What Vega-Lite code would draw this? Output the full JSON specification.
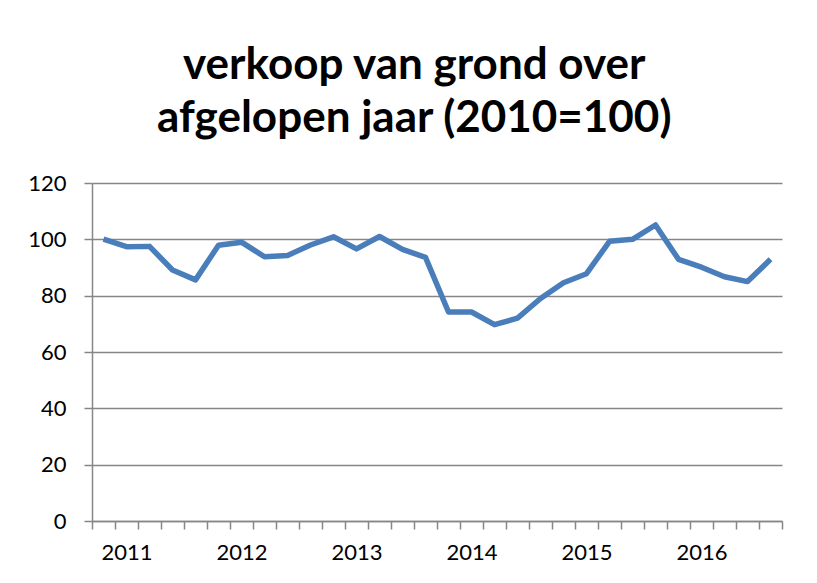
{
  "$schema": "https://vega.github.io/schema/vega-lite/v6.json",
  "width": 690,
  "height": 338,
  "autosize": "none",
  "padding": {"left": 92, "top": 183, "right": 35, "bottom": 62},
  "background": "white",
  "title": {
    "text": ["verkoop van grond over", "afgelopen jaar (2010=100)"],
    "font": "Lato",
    "fontWeight": "bold",
    "fontSize": 44,
    "lineHeight": 53,
    "color": "black",
    "anchor": "middle",
    "frame": "bounds",
    "offset": 31,
    "dx": 9
  },
  "config": {
    "view": {"stroke": null},
    "axis": {
      "labelFont": "Lato",
      "labelFontSize": 22,
      "labelColor": "black",
      "domainColor": "#868686",
      "tickColor": "#868686",
      "gridColor": "#868686",
      "domainWidth": 1.5,
      "tickWidth": 1.5,
      "gridWidth": 1.5
    }
  },
  "data": {
    "values": [
      {"q": 0, "index": 100.1},
      {"q": 1, "index": 97.4},
      {"q": 2, "index": 97.5},
      {"q": 3, "index": 89.1},
      {"q": 4, "index": 85.6},
      {"q": 5, "index": 97.9},
      {"q": 6, "index": 99.0},
      {"q": 7, "index": 93.8},
      {"q": 8, "index": 94.3},
      {"q": 9, "index": 98.0},
      {"q": 10, "index": 100.9},
      {"q": 11, "index": 96.6},
      {"q": 12, "index": 101.0},
      {"q": 13, "index": 96.4},
      {"q": 14, "index": 93.6},
      {"q": 15, "index": 74.2},
      {"q": 16, "index": 74.2},
      {"q": 17, "index": 69.7},
      {"q": 18, "index": 72.0},
      {"q": 19, "index": 79.0},
      {"q": 20, "index": 84.6},
      {"q": 21, "index": 87.8},
      {"q": 22, "index": 99.3},
      {"q": 23, "index": 100.0},
      {"q": 24, "index": 105.1},
      {"q": 25, "index": 92.9},
      {"q": 26, "index": 90.1},
      {"q": 27, "index": 86.7},
      {"q": 28, "index": 85.0},
      {"q": 29, "index": 92.9}
    ]
  },
  "mark": {"type": "line", "color": "#4A7EBB", "strokeWidth": 5.5, "strokeJoin": "round", "strokeCap": "butt"},
  "encoding": {
    "x": {
      "field": "q",
      "type": "quantitative",
      "scale": {"domain": [-0.5, 29.5], "nice": false, "zero": false},
      "axis": {
        "title": null,
        "grid": false,
        "values": [-0.5, 0.5, 1.5, 2.5, 3.5, 4.5, 5.5, 6.5, 7.5, 8.5, 9.5, 10.5, 11.5, 12.5, 13.5, 14.5, 15.5, 16.5, 17.5, 18.5, 19.5, 20.5, 21.5, 22.5, 23.5, 24.5, 25.5, 26.5, 27.5, 28.5, 29.5, 1, 6, 11, 16, 21, 26],
        "tickSize": {"condition": {"test": "datum.value % 1 === 0", "value": 0}, "value": 8},
        "labelExpr": "datum.value % 1 === 0 ? '' + (2011 + (datum.value - 1) / 5) : ''",
        "labelOverlap": false,
        "labelFlush": false,
        "labelBound": false,
        "labelPadding": 21
      }
    },
    "y": {
      "field": "index",
      "type": "quantitative",
      "scale": {"domain": [0, 120], "nice": false},
      "axis": {
        "title": null,
        "values": [0, 20, 40, 60, 80, 100, 120],
        "tickSize": 8,
        "labelPadding": 18
      }
    }
  }
}
